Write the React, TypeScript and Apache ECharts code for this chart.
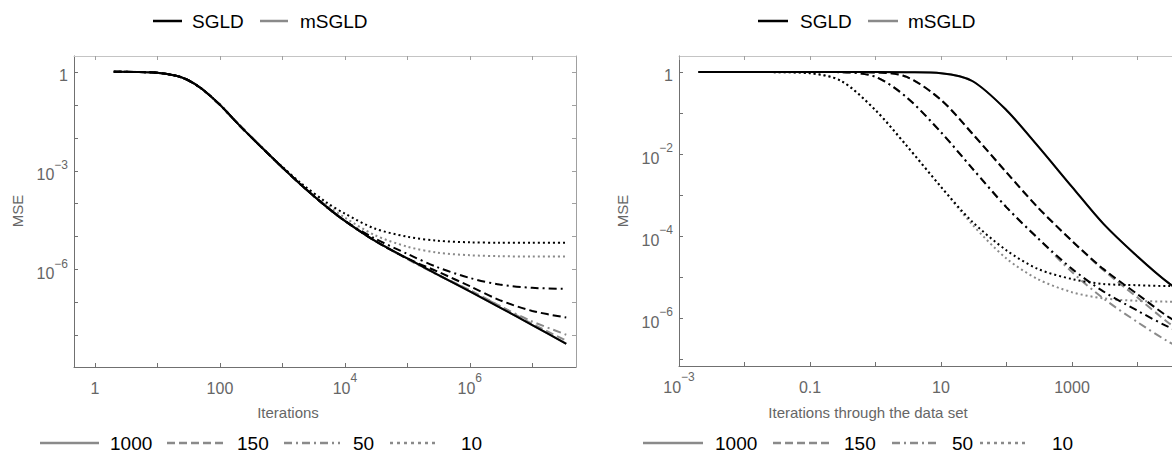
import React, { useEffect, useRef } from "react";
import * as echarts from "echarts";

const FONT = "'Liberation Sans', Arial, Helvetica, sans-serif";

// ---------- Left panel: MSE vs iterations ----------
const ITERATIONS = [2, 5, 10, 20, 30, 50, 100, 200, 500, 1e3, 2e3, 5e3, 1e4, 3e4, 1e5, 3e5, 1e6, 3e6, 1e7, 3.5e7];
const ITER_SGLD_1000 = [1, 0.989, 0.933, 0.759, 0.575, 0.316, 0.1, 0.0251, 4.47e-3, 1.26e-3, 3.72e-4, 8.32e-5, 3.02e-5, 7.59e-6, 2.19e-6, 7.24e-7, 2.19e-7, 7.24e-8, 2.09e-8, 5.62e-9];
const ITER_MSGLD_1000 = [1, 0.989, 0.933, 0.759, 0.575, 0.316, 0.1, 0.0251, 4.47e-3, 1.26e-3, 3.72e-4, 8.32e-5, 3.02e-5, 7.59e-6, 2.19e-6, 7.24e-7, 2.19e-7, 7.24e-8, 2.09e-8, 5.75e-9];
const ITER_SGLD_150 = [1, 0.989, 0.933, 0.759, 0.575, 0.316, 0.1, 0.0251, 4.47e-3, 1.26e-3, 3.72e-4, 8.32e-5, 3.02e-5, 7.59e-6, 2.19e-6, 8.91e-7, 3.16e-7, 1.2e-7, 5.62e-8, 3.55e-8];
const ITER_MSGLD_150 = [1, 0.989, 0.933, 0.759, 0.575, 0.316, 0.1, 0.0251, 4.47e-3, 1.26e-3, 3.72e-4, 8.32e-5, 3.02e-5, 7.59e-6, 2.19e-6, 7.24e-7, 2.4e-7, 7.94e-8, 2.29e-8, 7.08e-9];
const ITER_SGLD_50 = [1, 0.989, 0.933, 0.759, 0.575, 0.316, 0.1, 0.0251, 4.47e-3, 1.26e-3, 3.72e-4, 8.32e-5, 3.02e-5, 8.91e-6, 3.02e-6, 1.2e-6, 5.62e-7, 3.55e-7, 2.82e-7, 2.63e-7];
const ITER_MSGLD_50 = [1, 0.989, 0.933, 0.759, 0.575, 0.316, 0.1, 0.0251, 4.47e-3, 1.26e-3, 3.72e-4, 8.32e-5, 3.02e-5, 7.59e-6, 2.09e-6, 7.08e-7, 2.34e-7, 7.94e-8, 2.69e-8, 1.07e-8];
const ITER_SGLD_10 = [1, 0.989, 0.933, 0.759, 0.575, 0.316, 0.1, 0.0251, 4.47e-3, 1.32e-3, 4.17e-4, 1.12e-4, 5.01e-5, 1.78e-5, 1.0e-5, 7.59e-6, 6.76e-6, 6.61e-6, 6.61e-6, 6.61e-6];
const ITER_MSGLD_10 = [1, 0.989, 0.933, 0.759, 0.575, 0.316, 0.1, 0.0251, 4.47e-3, 1.26e-3, 3.8e-4, 9.55e-5, 3.8e-5, 1.12e-5, 5.01e-6, 3.31e-6, 2.75e-6, 2.57e-6, 2.51e-6, 2.51e-6];

// ---------- Right panel: MSE vs passes through the data set ----------
const PASSES = [0.002, 0.01, 0.03, 0.1, 0.3, 1, 3, 10, 30, 100, 300, 1000, 3000, 1e4, 3e4, 1e5];
const PASS_SGLD_1000 = [1, 1, 1, 1, 1, 1, 0.989, 0.933, 0.603, 0.117, 0.0158, 1.58e-3, 2.0e-4, 3.16e-5, 7.08e-6, 2.0e-6];
const PASS_MSGLD_1000 = [1, 1, 1, 1, 1, 1, 0.989, 0.933, 0.603, 0.117, 0.0158, 1.58e-3, 2.0e-4, 3.16e-5, 7.08e-6, 2.0e-6];
const PASS_SGLD_150 = [1, 1, 1, 1, 1, 0.977, 0.759, 0.209, 0.0316, 3.55e-3, 5.01e-4, 7.59e-5, 1.58e-5, 3.8e-6, 1.05e-6, 3.55e-7];
const PASS_MSGLD_150 = [1, 1, 1, 1, 1, 0.977, 0.759, 0.209, 0.0316, 3.55e-3, 5.01e-4, 7.59e-5, 1.48e-5, 3.16e-6, 7.59e-7, 2.0e-7];
const PASS_SGLD_50 = [1, 1, 1, 1, 0.989, 0.759, 0.24, 0.0339, 4.47e-3, 5.01e-4, 8.91e-5, 1.58e-5, 4.47e-6, 1.51e-6, 6.03e-7, 2.82e-7];
const PASS_MSGLD_50 = [1, 1, 1, 1, 0.989, 0.759, 0.24, 0.0339, 4.47e-3, 5.01e-4, 8.91e-5, 1.32e-5, 3.02e-6, 7.94e-7, 2.63e-7, 1.0e-7];
const PASS_SGLD_10 = [1, 1, 0.989, 0.933, 0.603, 0.117, 0.0158, 1.58e-3, 2.24e-4, 4.47e-5, 1.58e-5, 8.91e-6, 6.76e-6, 6.31e-6, 6.03e-6, 6.03e-6];
const PASS_MSGLD_10 = [1, 1, 0.989, 0.933, 0.603, 0.117, 0.0158, 1.58e-3, 1.91e-4, 2.82e-5, 8.91e-6, 4.27e-6, 3.02e-6, 2.63e-6, 2.51e-6, 2.51e-6];

// ---------- Legends / labels ----------
const METHODS = ["SGLD", "mSGLD"];
const BATCHES = ["1000", "150", "50", "10"];

// tick positions (powers of ten) and labelled ones
const L_X_TICKS = [1, 10, 100, 1e3, 1e4, 1e5, 1e6, 1e7];
const L_X_LABELS = [1, 100, 1e4, 1e6];
const L_Y_TICKS = [1, 1e-1, 1e-2, 1e-3, 1e-4, 1e-5, 1e-6, 1e-7, 1e-8];
const L_Y_LABELS = [1, 1e-3, 1e-6];
const R_X_TICKS = [1e-3, 1e-2, 0.1, 1, 10, 100, 1000, 1e4];
const R_X_LABELS = [1e-3, 0.1, 10, 1000];
const R_Y_TICKS = [1, 1e-1, 1e-2, 1e-3, 1e-4, 1e-5, 1e-6, 1e-7];
const R_Y_LABELS = [1, 1e-2, 1e-4, 1e-6];

const lg = (v: number) => Math.log10(v);
const BLACK = "#000000";
const GRAY = "#8a8a8a";
const TICK_COLOR = "#666666";
const DASH: Record<string, any> = {
  "1000": "solid",
  "150": [8, 4],
  "50": [8, 4, 2, 4],
  "10": [2, 3],
};

function tickText(v: number, plainUpTo: [number, number]): string {
  const e = Math.round(v);
  if (e >= plainUpTo[0] && e <= plainUpTo[1]) {
    const s = e >= 0 ? String(Math.pow(10, e)) : Math.pow(10, e).toFixed(-e);
    return "{b|" + s + "}";
  }
  return "{b|10}{s|" + (e < 0 ? "\u2212" + -e : String(e)) + "}";
}

const RICH = {
  b: { fontSize: 16, fontFamily: FONT, color: TICK_COLOR, lineHeight: 24, verticalAlign: "bottom" },
  s: { fontSize: 12, fontFamily: FONT, color: TICK_COLOR, lineHeight: 12, verticalAlign: "top" },
};

function axisPair(
  dim: "x" | "y",
  grid: number,
  min: number,
  max: number,
  ticks: number[],
  labels: number[],
  plain: [number, number]
) {
  const main: any = {
    type: "value",
    gridIndex: grid,
    position: dim === "x" ? "bottom" : "left",
    min,
    max,
    axisLine: { show: true, onZero: false, lineStyle: { color: "#707070", width: 1 } },
    axisTick: {
      show: true,
      inside: true,
      length: 4,
      customValues: ticks.map(lg),
      lineStyle: { color: "#707070", width: 1 },
    },
    axisLabel: {
      show: true,
      customValues: labels.map(lg),
      margin: dim === "x" ? 5 : 6,
      formatter: (v: number) => tickText(v, plain),
      rich: RICH,
      hideOverlap: false,
    },
    splitLine: { show: false },
  };
  const mirror: any = {
    type: "value",
    gridIndex: grid,
    position: dim === "x" ? "top" : "right",
    min,
    max,
    axisLine: { show: true, onZero: false, lineStyle: { color: dim === "x" ? "#c4c4c4" : "#a0a0a0", width: 1 } },
    axisTick: {
      show: true,
      inside: true,
      length: 4,
      customValues: ticks.map(lg),
      lineStyle: { color: "#a0a0a0", width: 1 },
    },
    axisLabel: { show: false },
    splitLine: { show: false },
  };
  return [main, mirror];
}

function buildSeries(
  xs: number[],
  curves: { method: string; batch: string; ys: number[] }[],
  xAxisIndex: number,
  yAxisIndex: number
) {
  return curves.map((c) => ({
    type: "line",
    name: c.method + " " + c.batch,
    xAxisIndex,
    yAxisIndex,
    data: xs.map((x, i) => [lg(x), lg(c.ys[i])]),
    showSymbol: false,
    symbol: "none",
    smooth: 0.3,
    silent: true,
    z: c.method === "SGLD" ? 3 : 2,
    lineStyle: {
      color: c.method === "SGLD" ? BLACK : GRAY,
      width: 2,
      type: DASH[c.batch],
      cap: "butt",
    },
  }));
}

const LEFT_CURVES = [
  { method: "mSGLD", batch: "1000", ys: ITER_MSGLD_1000 },
  { method: "mSGLD", batch: "150", ys: ITER_MSGLD_150 },
  { method: "mSGLD", batch: "50", ys: ITER_MSGLD_50 },
  { method: "mSGLD", batch: "10", ys: ITER_MSGLD_10 },
  { method: "SGLD", batch: "1000", ys: ITER_SGLD_1000 },
  { method: "SGLD", batch: "150", ys: ITER_SGLD_150 },
  { method: "SGLD", batch: "50", ys: ITER_SGLD_50 },
  { method: "SGLD", batch: "10", ys: ITER_SGLD_10 },
];
const RIGHT_CURVES = [
  { method: "mSGLD", batch: "1000", ys: PASS_MSGLD_1000 },
  { method: "mSGLD", batch: "150", ys: PASS_MSGLD_150 },
  { method: "mSGLD", batch: "50", ys: PASS_MSGLD_50 },
  { method: "mSGLD", batch: "10", ys: PASS_MSGLD_10 },
  { method: "SGLD", batch: "1000", ys: PASS_SGLD_1000 },
  { method: "SGLD", batch: "150", ys: PASS_SGLD_150 },
  { method: "SGLD", batch: "50", ys: PASS_SGLD_50 },
  { method: "SGLD", batch: "10", ys: PASS_SGLD_10 },
];

function txt(x: number, y: number, text: string, size: number, color: string, align = "left", rotation = 0) {
  return {
    type: "text",
    x,
    y,
    rotation,
    silent: true,
    style: {
      text,
      fill: color,
      fontSize: size,
      fontFamily: FONT,
      align,
      verticalAlign: "middle",
      textAlign: align,
      textVerticalAlign: "middle",
    },
  };
}
function seg(x1: number, x2: number, y: number, color: string, dash: any, width = 2) {
  return {
    type: "line",
    silent: true,
    shape: { x1, y1: y, x2, y2: y },
    style: { stroke: color, lineWidth: width, lineDash: dash === "solid" ? null : dash, lineCap: "butt" },
  };
}

function legendGraphics() {
  const g: any[] = [];
  // top legends (method)
  const tops = [
    { l1: [153, 182], t1: 192, l2: [260, 288], t2: 300 },
    { l1: [758, 788], t1: 800, l2: [868, 898], t2: 908 },
  ];
  tops.forEach((p) => {
    g.push(seg(p.l1[0], p.l1[1], 21, BLACK, "solid", 2.5));
    g.push(txt(p.t1, 21, METHODS[0], 19, "#000"));
    g.push(seg(p.l2[0], p.l2[1], 21, GRAY, "solid", 2.5));
    g.push(txt(p.t2, 21, METHODS[1], 19, "#000"));
  });
  // bottom legends (batch size)
  const bottoms = [
    { lines: [[40, 99], [167, 224], [284, 340], [390, 438]], texts: [110, 237, 353, 461] },
    { lines: [[643, 703], [773, 830], [892, 937], [980, 1027]], texts: [715, 844, 952, 1052] },
  ];
  const LEG_DASH: Record<string, any> = { "1000": "solid", "150": [8, 4], "50": [8, 4, 2, 4], "10": [3, 4] };
  bottoms.forEach((p) => {
    BATCHES.forEach((b, i) => {
      g.push(seg(p.lines[i][0], p.lines[i][1], 443, GRAY, LEG_DASH[b], 2.5));
      g.push(txt(p.texts[i], 443, b, 19, "#000"));
    });
  });
  // axis titles
  g.push(txt(288, 412, "Iterations", 15, TICK_COLOR, "center"));
  g.push(txt(868, 412, "Iterations through the data set", 15, TICK_COLOR, "center"));
  g.push(txt(17, 211, "MSE", 15, TICK_COLOR, "center", Math.PI / 2));
  g.push(txt(622, 211, "MSE", 15, TICK_COLOR, "center", Math.PI / 2));
  return g;
}

export default function App() {
  const ref = useRef<HTMLDivElement>(null);
  useEffect(() => {
    if (!ref.current) return;
    const chart = echarts.init(ref.current, undefined, { renderer: "svg" });
    const lx = axisPair("x", 0, -0.336, 7.7, L_X_TICKS, L_X_LABELS, [0, 2]);
    const ly = axisPair("y", 0, -8.95, 0.48, L_Y_TICKS, L_Y_LABELS, [0, 0]);
    const rx = axisPair("x", 1, -3, 5, R_X_TICKS, R_X_LABELS, [-1, 3]);
    const ry = axisPair("y", 1, -7.17, 0.39, R_Y_TICKS, R_Y_LABELS, [0, 0]);
    chart.setOption({
      animation: false,
      backgroundColor: "#ffffff",
      textStyle: { fontFamily: FONT },
      grid: [
        { left: 74, top: 56, width: 502, height: 311, containLabel: false, outerBoundsMode: "none" },
        { left: 679, top: 56, width: 524, height: 310, containLabel: false, outerBoundsMode: "none" },
      ],
      xAxis: [...lx, ...rx],
      yAxis: [...ly, ...ry],
      series: [
        ...buildSeries(ITERATIONS, LEFT_CURVES, 0, 0),
        ...buildSeries(PASSES, RIGHT_CURVES, 2, 2),
      ],
      graphic: legendGraphics(),
    });
    return () => chart.dispose();
  }, []);
  return (
    <div
      ref={ref}
      style={{ position: "absolute", left: 0, top: 0, width: 1172, height: 462, overflow: "hidden", background: "#fff" }}
    />
  );
}
